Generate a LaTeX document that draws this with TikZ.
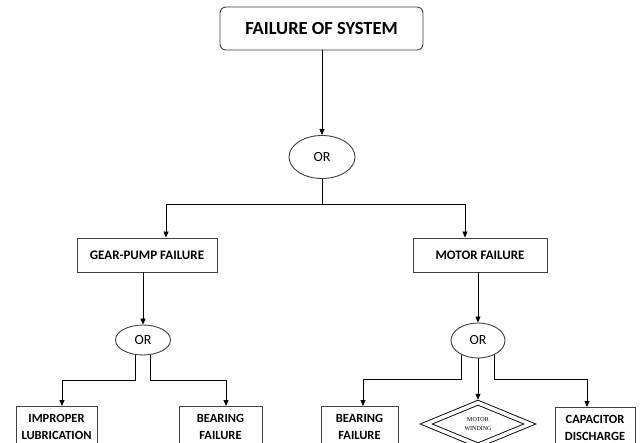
\documentclass[tikz,border=0pt]{standalone}
\usepackage{fontspec}
\setmainfont{Carlito}
\newfontfamily\tinyserif{Liberation Serif}
\usetikzlibrary{shapes.geometric,arrows.meta}
\begin{document}
\begin{tikzpicture}[x=1pt,y=-1pt,
  arr/.style={-{Triangle[length=6pt,width=5pt]}, line width=0.8pt, draw=black},
  box/.style={draw=black!75, line width=0.9pt, rectangle, inner sep=0pt, font=\bfseries\fontsize{13}{15}\selectfont},
  lowbox/.style={draw=black!75, line width=0.9pt, rectangle, anchor=north, align=center, inner xsep=0pt, inner ysep=8pt, font=\bfseries\fontsize{12.5}{17}\selectfont},
  gate/.style={draw=black!75, line width=0.9pt, ellipse, inner sep=0pt, font=\fontsize{14}{16}\selectfont},
  dia/.style={draw=black, diamond, double, double distance=3.6pt, line width=0.9pt, inner sep=0pt, align=center, font=\tinyserif\fontsize{6}{9}\selectfont},
]
\useasboundingbox (0,0) rectangle (642,443);
\clip (0,0) rectangle (642,443);
\fill[white] (0,0) rectangle (642,443);

% nodes
\node[box, rounded corners=6pt, minimum width=203pt, minimum height=43pt, font=\bfseries\fontsize{18.5}{21}\selectfont] (top) at (321.5,28.5) {FAILURE OF SYSTEM};
\node[gate, minimum width=66pt, minimum height=43pt] (or1) at (322,157) {OR};
\node[box, minimum width=140pt, minimum height=34pt] (gp) at (147,255) {GEAR-PUMP FAILURE};
\node[box, minimum width=134pt, minimum height=34pt] (mf) at (480,255) {MOTOR FAILURE};
\node[gate, minimum width=55pt, minimum height=30pt] (or2) at (143,340) {OR};
\node[gate, minimum width=54pt, minimum height=35pt] (or3) at (478,340.5) {OR};
\node[lowbox, minimum width=81pt] (b1) at (56.5,406) {IMPROPER\\LUBRICATION};
\node[lowbox, minimum width=83pt] (b2) at (220.5,406) {BEARING\\FAILURE};
\node[lowbox, minimum width=77pt] (b3) at (359.5,406) {BEARING\\FAILURE};
\node[dia, minimum width=104pt, minimum height=43pt] (mw) at (478,424) {MOTOR\\WINDING};
\node[lowbox, minimum width=80pt] (b4) at (595,407) {CAPACITOR\\DISCHARGE};

% helper levels
\coordinate (l1) at (0,204);
\coordinate (l2) at (0,380);
\coordinate (l3) at (0,379);

% connectors
\draw[arr] (top.south -| or1.north) -- (or1.north);
\draw[arr] (or1.south) -- (or1.south |- l1) -| ([xshift=19pt]gp.north);
\draw[arr] (or1.south |- l1) -| ([xshift=-15pt]mf.north);
\draw[arr] (gp.south -| or2.north) -- (or2.north);
\draw[arr] (mf.south -| or3.north) -- (or3.north);
\draw[arr] (or2.244) -- (or2.244 |- l2) -| ([xshift=5.5pt]b1.north);
\draw[arr] (or2.296) -- (or2.296 |- l2) -| ([xshift=5.5pt]b2.north);
\draw[arr] (or3.221) -- (or3.221 |- l3) -| ([xshift=3.5pt]b3.north);
\draw[arr, shorten >=2.3pt] (or3.south -| mw.north) -- (mw.north);
\draw[arr] (or3.319) -- (or3.319 |- l3) -| ([xshift=-8pt]b4.north);
\end{tikzpicture}
\end{document}
